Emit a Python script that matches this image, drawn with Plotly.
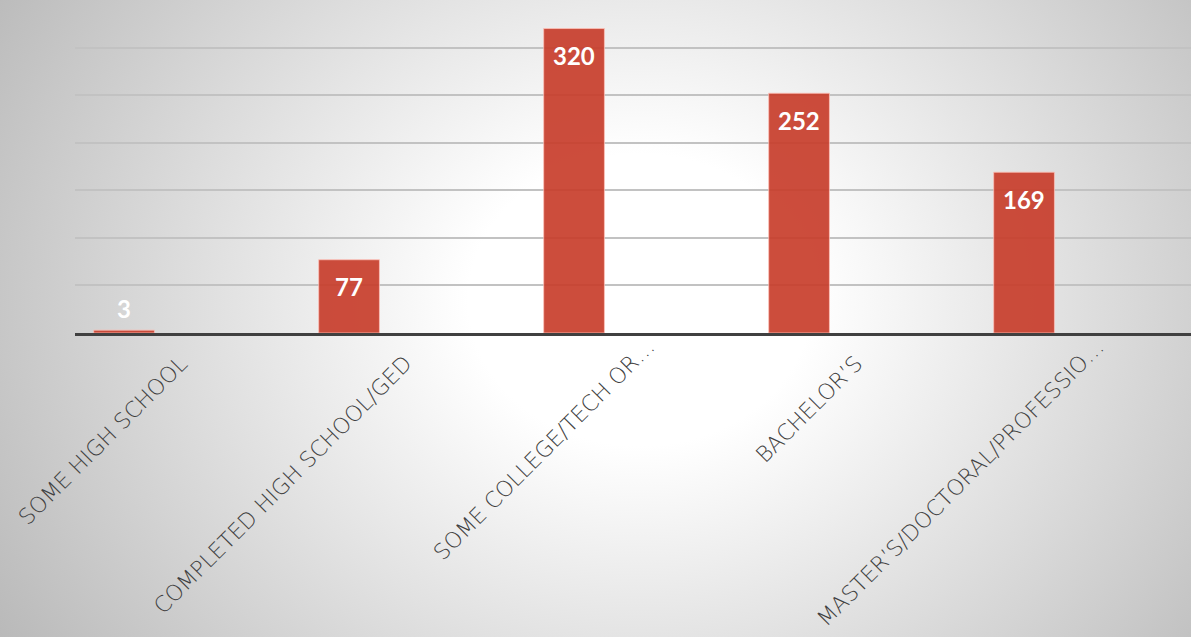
import base64
import plotly.graph_objects as go

# Respondent counts by highest education level
categories = [
    "SOME HIGH SCHOOL",
    "COMPLETED HIGH SCHOOL/GED",
    "SOME COLLEGE/TECH OR…",
    "BACHELOR’S",
    "MASTER’S/DOCTORAL/PROFESSIO…",
]
counts = [3, 77, 320, 252, 169]

W, H = 1191, 637
M_L, M_R, M_T, M_B = 75, 0, 0, 304
plot_w = W - M_L - M_R

# Soft radial backdrop drawn as an SVG gradient behind the plot
svg = f"""<svg xmlns='http://www.w3.org/2000/svg' width='{W}' height='{H}' viewBox='0 0 {W} {H}'>
<defs><radialGradient id='g' gradientUnits='userSpaceOnUse' cx='640' cy='300' r='780'
 gradientTransform='translate(640 300) scale(1 0.85) translate(-640 -300)'>
<stop offset='0' stop-color='#ffffff'/>
<stop offset='0.22' stop-color='#ffffff'/>
<stop offset='1' stop-color='#b6b6b6'/>
</radialGradient></defs>
<rect width='{W}' height='{H}' fill='url(#g)'/>
</svg>"""
bg_src = "data:image/svg+xml;base64," + base64.b64encode(svg.encode()).decode()

x_idx = list(range(len(categories)))

fig = go.Figure()
fig.add_trace(go.Bar(
    x=x_idx,
    y=counts,
    width=0.27,
    marker=dict(color="rgb(200,62,44)", opacity=0.92,
                line=dict(color="rgba(255,190,180,0.8)", width=1)),
    hoverinfo="skip",
))

# Value labels: inside the top of each bar, or just above when the bar is too short
for i, v in enumerate(counts):
    inside = v > 30
    fig.add_annotation(
        x=i, y=v, xref="x", yref="y",
        text=f"<b>{v}</b>", showarrow=False,
        yshift=-27 if inside else 22,
        font=dict(family="Lato, DejaVu Sans, sans-serif", size=24, color="white"),
    )

# Slanted category labels hung below the axis; truncated ones sit a little further right
for i, name in enumerate(categories):
    cut = name.endswith("…")
    fig.add_annotation(
        x=i, y=0, xref="x", yref="y",
        text=name, showarrow=False, textangle=-45,
        xanchor="right", yanchor="top",
        xshift=71 + (17 if cut else 0),
        yshift=-15 + (17 if cut else 0),
        font=dict(family="DejaVu Sans, sans-serif", size=22, color="#404040", weight=200),
    )

fig.update_layout(
    width=W, height=H,
    margin=dict(l=M_L, r=M_R, t=M_T, b=M_B, pad=0, autoexpand=False),
    paper_bgcolor="rgba(0,0,0,0)",
    plot_bgcolor="rgba(0,0,0,0)",
    showlegend=False,
    images=[dict(
        source=bg_src, xref="paper", yref="paper",
        x=-M_L / plot_w, y=1 + M_T / (H - M_T - M_B),
        sizex=W / plot_w, sizey=H / (H - M_T - M_B),
        xanchor="left", yanchor="top", sizing="stretch", layer="below",
    )],
    xaxis=dict(
        range=[-0.218, 4.742], automargin=False,
        tickmode="array", tickvals=x_idx, showticklabels=False,
        ticks="", showgrid=False, zeroline=False,
        showline=True, linecolor="#404040", linewidth=3,
    ),
    yaxis=dict(
        range=[0, 350], dtick=50, automargin=False,
        showticklabels=False, ticks="",
        showgrid=True, gridcolor="#c2c2c2", gridwidth=1.5,
        zeroline=False,
    ),
)

fig.write_html("out.html")
